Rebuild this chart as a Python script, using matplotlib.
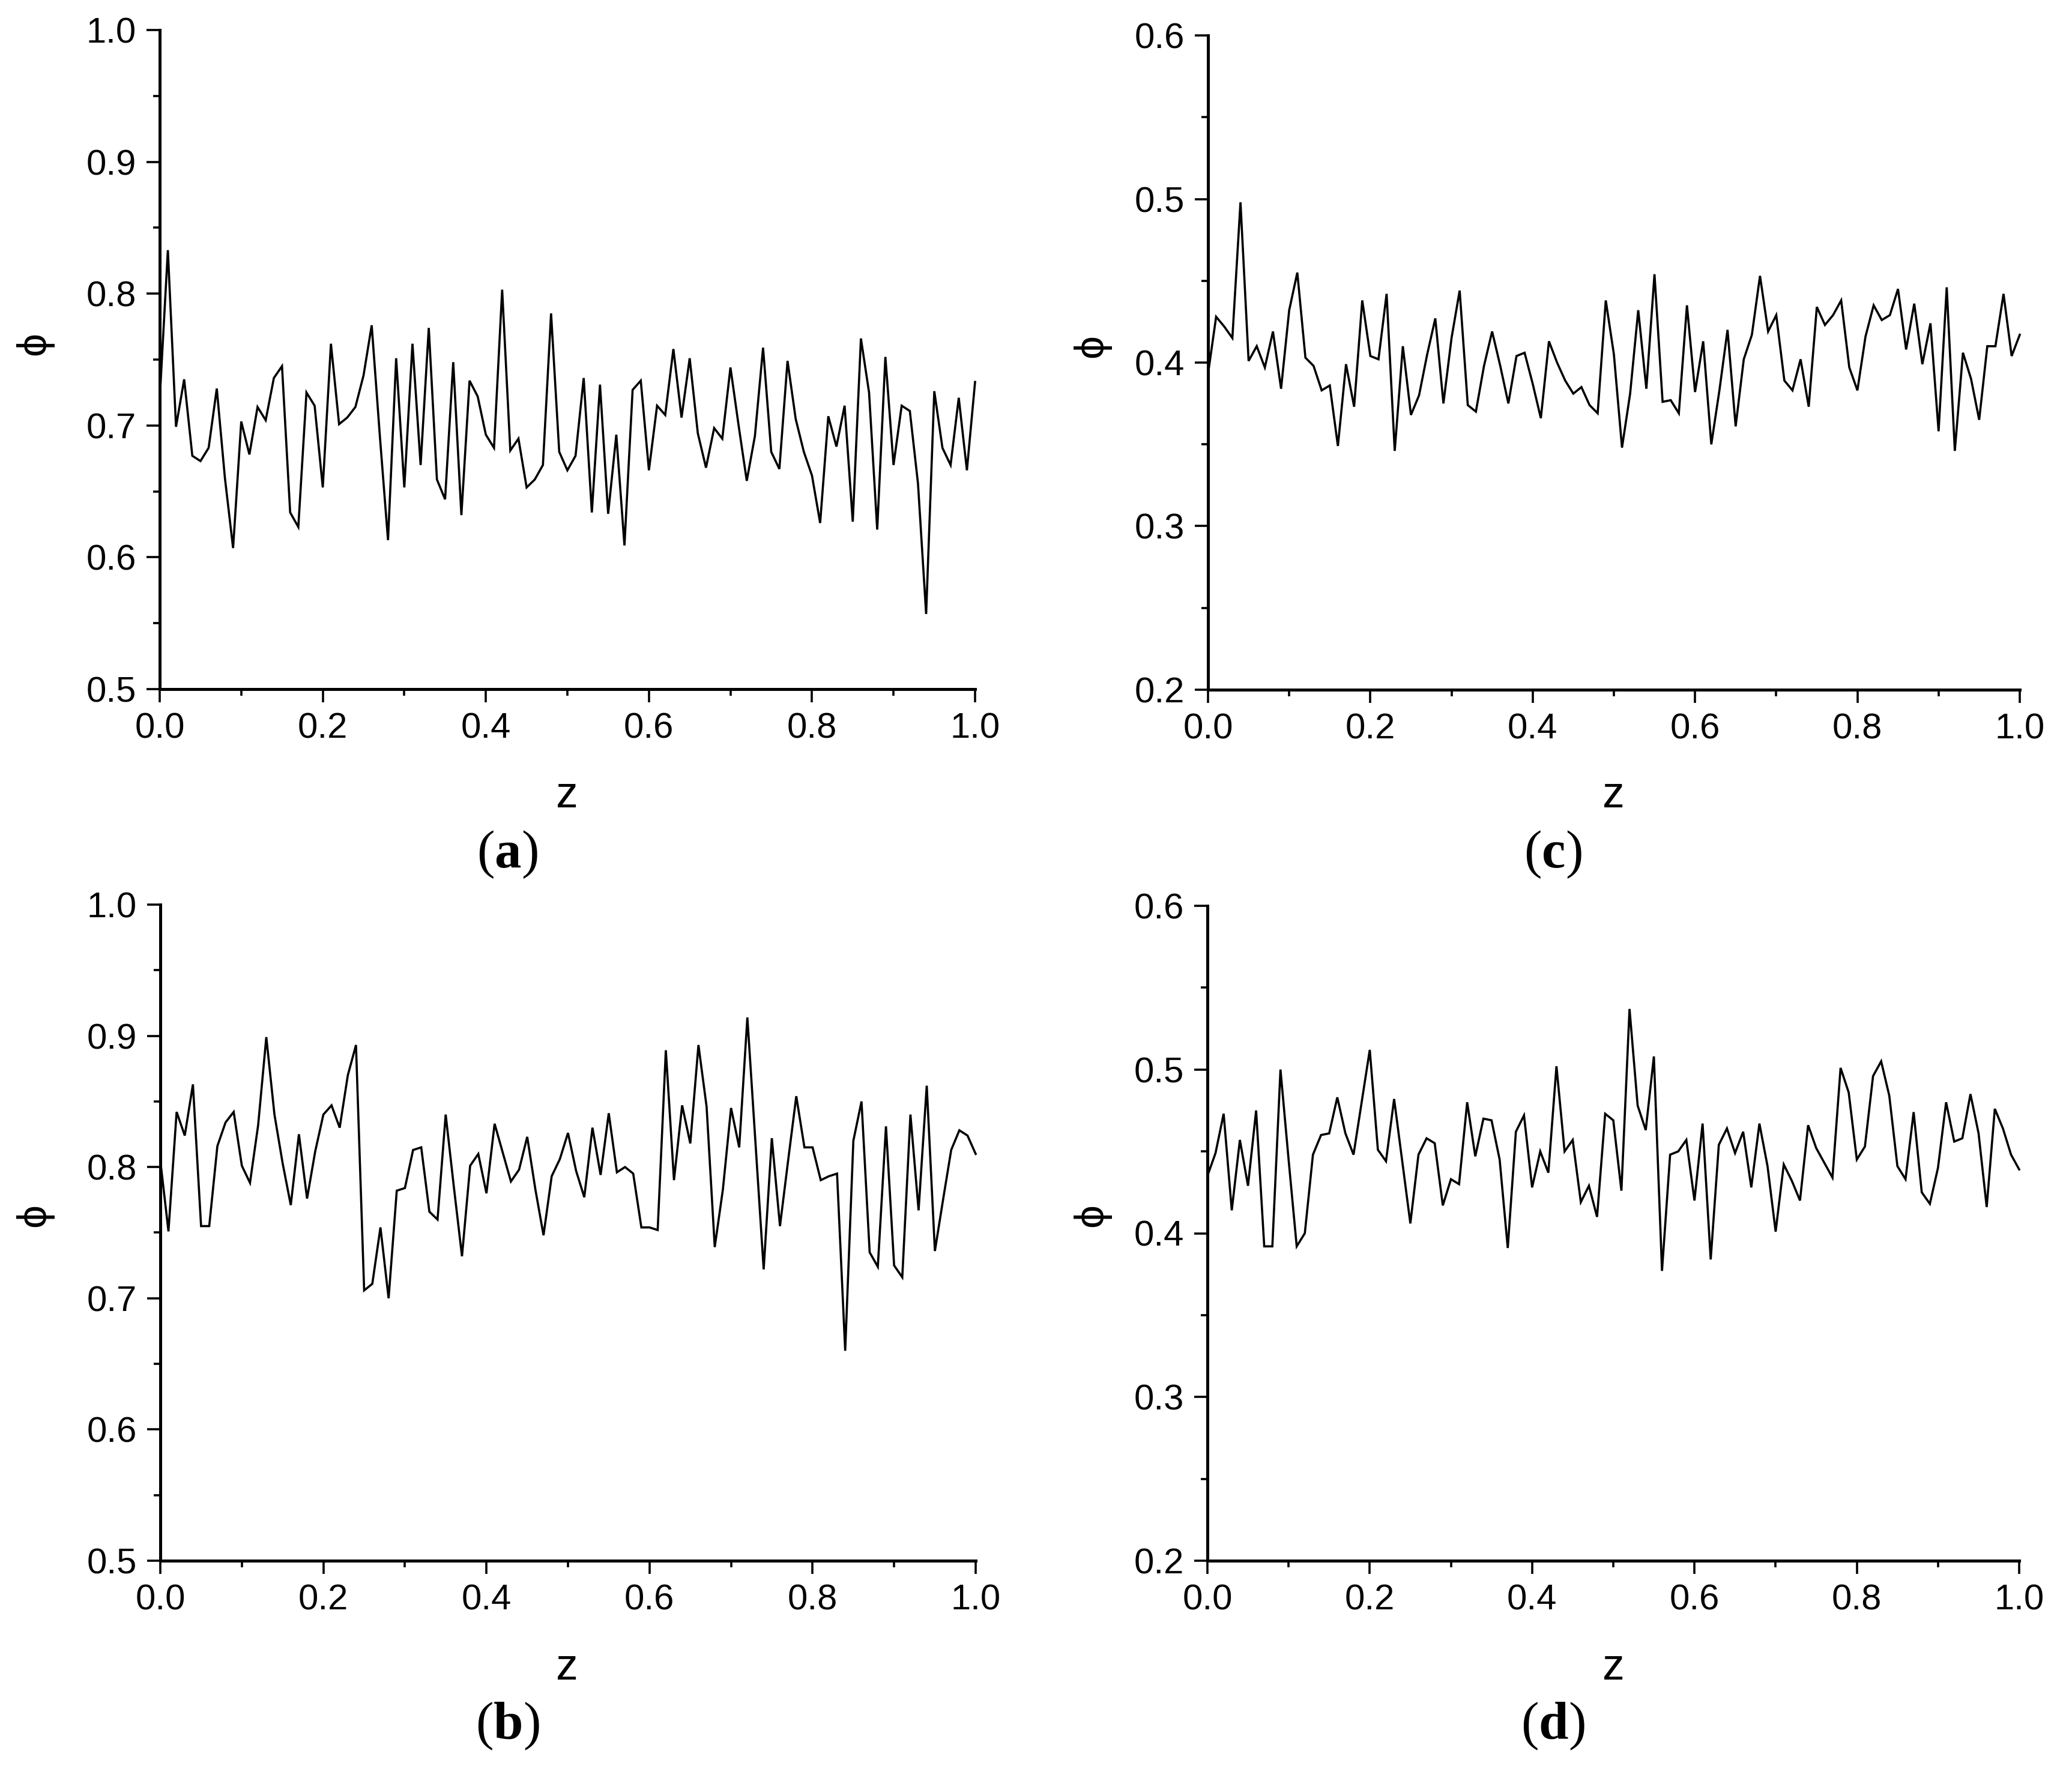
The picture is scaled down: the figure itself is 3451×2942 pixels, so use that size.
import numpy as np
import matplotlib
matplotlib.use("Agg")
import matplotlib.pyplot as plt
from matplotlib.ticker import MultipleLocator

# ---------------- data ----------------
z = np.round(np.arange(101) * 0.01, 2)

phi_a = [0.720, 0.833, 0.699, 0.735, 0.677, 0.673, 0.683, 0.728, 0.660, 0.607,
         0.703, 0.678, 0.714, 0.704, 0.736, 0.745, 0.634, 0.623, 0.725, 0.715,
         0.653, 0.762, 0.701, 0.706, 0.714, 0.738, 0.776, 0.692, 0.613, 0.751,
         0.653, 0.762, 0.670, 0.774, 0.659, 0.644, 0.748, 0.632, 0.734, 0.722,
         0.693, 0.683, 0.803, 0.681, 0.690, 0.653, 0.659, 0.670, 0.785, 0.680,
         0.666, 0.677, 0.736, 0.634, 0.731, 0.633, 0.693, 0.609, 0.727, 0.734,
         0.666, 0.715, 0.708, 0.758, 0.706, 0.751, 0.694, 0.668, 0.698, 0.690,
         0.744, 0.700, 0.658, 0.692, 0.759, 0.680, 0.667, 0.749, 0.705, 0.680,
         0.662, 0.626, 0.707, 0.684, 0.715, 0.627, 0.766, 0.725, 0.621, 0.752,
         0.670, 0.715, 0.711, 0.656, 0.557, 0.726, 0.683, 0.670, 0.721, 0.666,
         0.733]

phi_b = [0.805, 0.751, 0.842, 0.824, 0.863, 0.755, 0.755, 0.816, 0.834, 0.842,
         0.801, 0.788, 0.832, 0.899, 0.840, 0.803, 0.771, 0.825, 0.776, 0.812,
         0.840, 0.847, 0.830, 0.870, 0.893, 0.706, 0.711, 0.754, 0.700, 0.782,
         0.784, 0.813, 0.815, 0.766, 0.760, 0.840, 0.785, 0.732, 0.801, 0.810,
         0.780, 0.833, 0.811, 0.789, 0.798, 0.823, 0.783, 0.748, 0.793, 0.806,
         0.826, 0.797, 0.777, 0.830, 0.794, 0.841, 0.796, 0.800, 0.795, 0.754,
         0.754, 0.752, 0.889, 0.790, 0.847, 0.818, 0.893, 0.846, 0.739, 0.783,
         0.845, 0.815, 0.914, 0.818, 0.722, 0.822, 0.755, 0.805, 0.854, 0.815,
         0.815, 0.790, 0.793, 0.795, 0.660, 0.820, 0.850, 0.735, 0.724, 0.831,
         0.725, 0.716, 0.840, 0.767, 0.862, 0.736, 0.775, 0.813, 0.828, 0.824,
         0.810]

phi_c = [0.393, 0.428, 0.422, 0.415, 0.498, 0.401, 0.410, 0.397, 0.419, 0.384,
         0.432, 0.455, 0.403, 0.398, 0.383, 0.386, 0.349, 0.399, 0.373, 0.438,
         0.404, 0.402, 0.442, 0.346, 0.410, 0.368, 0.380, 0.405, 0.427, 0.375,
         0.415, 0.444, 0.374, 0.370, 0.398, 0.419, 0.398, 0.375, 0.404, 0.406,
         0.387, 0.366, 0.413, 0.400, 0.389, 0.381, 0.385, 0.374, 0.369, 0.438,
         0.405, 0.348, 0.381, 0.432, 0.384, 0.454, 0.376, 0.377, 0.369, 0.435,
         0.382, 0.413, 0.350, 0.383, 0.420, 0.361, 0.402, 0.417, 0.453, 0.419,
         0.429, 0.389, 0.383, 0.402, 0.373, 0.434, 0.423, 0.429, 0.438, 0.397,
         0.383, 0.416, 0.435, 0.426, 0.429, 0.445, 0.408, 0.436, 0.399, 0.424,
         0.358, 0.446, 0.346, 0.406, 0.390, 0.365, 0.410, 0.410, 0.442, 0.404,
         0.417]

phi_d = [0.435, 0.449, 0.473, 0.414, 0.457, 0.429, 0.475, 0.392, 0.392, 0.500,
         0.445, 0.392, 0.400, 0.448, 0.460, 0.461, 0.483, 0.461, 0.448, 0.480,
         0.512, 0.451, 0.444, 0.482, 0.444, 0.406, 0.448, 0.458, 0.455, 0.417,
         0.433, 0.430, 0.480, 0.447, 0.470, 0.469, 0.445, 0.391, 0.462, 0.472,
         0.428, 0.450, 0.437, 0.502, 0.450, 0.457, 0.419, 0.429, 0.410, 0.473,
         0.469, 0.426, 0.537, 0.478, 0.463, 0.508, 0.377, 0.448, 0.450, 0.457,
         0.420, 0.467, 0.384, 0.454, 0.464, 0.449, 0.462, 0.428, 0.467, 0.441,
         0.401, 0.442, 0.432, 0.420, 0.466, 0.452, 0.443, 0.434, 0.501, 0.486,
         0.445, 0.453, 0.496, 0.505, 0.484, 0.441, 0.433, 0.474, 0.425, 0.418,
         0.440, 0.480, 0.456, 0.458, 0.485, 0.461, 0.416, 0.476, 0.464, 0.448,
         0.439]

ylim_ab = (0.5, 1.0)
ylim_cd = (0.2, 0.6)
panel_letters = ["a", "b", "c", "d"]
x_label = "z"
y_label = "\u03d5"

# ---------------- style ----------------
plt.rcParams["font.family"] = ["Liberation Sans", "DejaVu Sans"]
plt.rcParams["mathtext.fontset"] = "custom"
plt.rcParams["mathtext.rm"] = "Liberation Serif"
plt.rcParams["mathtext.bf"] = "Liberation Serif:bold"

W, H = 3451, 2942
fig = plt.figure(figsize=(W / 100, H / 100), dpi=100)


def px_rect(x0, x1, ytop, ybot):
    return [x0 / W, 1 - ybot / H, (x1 - x0) / W, (ybot - ytop) / H]


panels = [
    (phi_a, px_rect(266, 1624, 50, 1148), ylim_ab, "a", (57, 572), (944, 1326), (845, 1424)),
    (phi_b, px_rect(267, 1625, 1507, 2600), ylim_ab, "b", (57, 2024), (944, 2778), (845, 2876)),
    (phi_c, px_rect(2012, 3364, 59, 1149), ylim_cd, "c", (1818, 577), (2687, 1326), (2586, 1424)),
    (phi_d, px_rect(2011, 3363, 1509, 2600), ylim_cd, "d", (1818, 2024), (2687, 2778), (2586, 2876)),
]

for phi, rect, ylim, letter, ylab_pos, xlab_pos, let_pos in panels:
    ax = fig.add_axes(rect)
    ax.plot(z, phi, color="black", lw=2.6, solid_joinstyle="miter", clip_on=False)
    ax.set_xlim(0, 1)
    ax.set_ylim(*ylim)
    for s in ("top", "right"):
        ax.spines[s].set_visible(False)
    for s in ("left", "bottom"):
        ax.spines[s].set_linewidth(3.6)
    ax.xaxis.set_major_locator(MultipleLocator(0.2))
    ax.xaxis.set_minor_locator(MultipleLocator(0.1))
    ax.yaxis.set_major_locator(MultipleLocator(0.1))
    ax.yaxis.set_minor_locator(MultipleLocator(0.05))
    ax.xaxis.set_major_formatter(matplotlib.ticker.FormatStrFormatter("%.1f"))
    ax.yaxis.set_major_formatter(matplotlib.ticker.FormatStrFormatter("%.1f"))
    ax.tick_params(which="major", direction="out", length=16, width=2.6,
                   labelsize=43, pad=12, colors="black")
    ax.tick_params(which="minor", direction="out", length=8, width=2.6)
    ax.patch.set_visible(False)

    fig.text(ylab_pos[0] / W, 1 - ylab_pos[1] / H, y_label, rotation=90,
             ha="center", va="center", fontsize=50)
    fig.text(xlab_pos[0] / W, 1 - xlab_pos[1] / H, x_label,
             ha="center", va="center", fontsize=53)
    fig.text(let_pos[0] / W, 1 - let_pos[1] / H, r"$(\mathbf{%s})$" % letter,
             ha="center", va="center", fontsize=64)

fig.savefig("out.png", dpi=100, facecolor="white")
